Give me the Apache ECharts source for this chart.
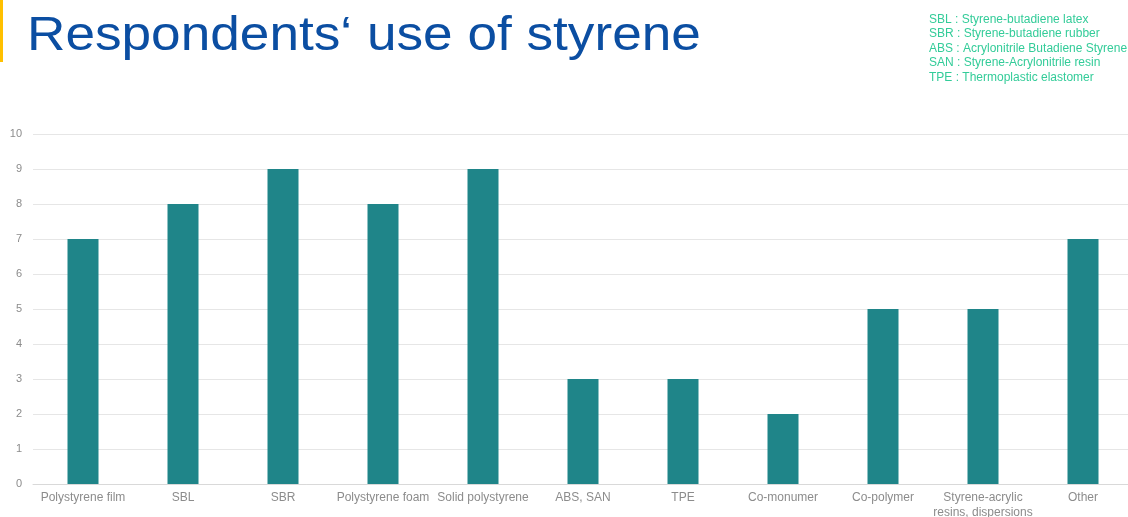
<!DOCTYPE html>
<html>
<head>
<meta charset="utf-8">
<script src="https://cdn.jsdelivr.net/npm/echarts@6/dist/echarts.min.js"></script>
<style>
  html, body { margin: 0; padding: 0; background: #fff; }
  #chart { width: 1128px; height: 517px; }
</style>
</head>
<body>
<div id="chart"></div>
<script>
// Uses of styrene reported by respondents (count per use)
const categories = [
  'Polystyrene film', 'SBL', 'SBR', 'Polystyrene foam', 'Solid polystyrene',
  'ABS, SAN', 'TPE', 'Co-monumer', 'Co-polymer',
  'Styrene-acrylic\nresins, dispersions', 'Other'
];
const respondents = [7, 8, 9, 8, 9, 3, 3, 2, 5, 5, 7];
const abbreviations = [
  'SBL : Styrene-butadiene latex',
  'SBR : Styrene-butadiene rubber',
  'ABS : Acrylonitrile Butadiene Styrene',
  'SAN : Styrene-Acrylonitrile resin',
  'TPE : Thermoplastic elastomer'
];

const chart = echarts.init(document.getElementById('chart'), null, { renderer: 'canvas' });

chart.setOption({
  animation: false,
  backgroundColor: '#ffffff',
  textStyle: { fontFamily: 'Liberation Sans, Arial, sans-serif' },
  grid: {
    left: 33, right: -5, top: 134, bottom: 33,
    containLabel: false, outerBoundsMode: 'none'
  },
  xAxis: {
    type: 'category',
    data: categories,
    axisLine: { show: true, lineStyle: { color: '#d9d9d9', width: 1 } },
    axisTick: { show: false },
    axisLabel: {
      color: '#8c8c8c', fontSize: 12, margin: 6, interval: 0, lineHeight: 15,
      hideOverlap: false,
      fontFamily: 'Liberation Sans, Arial, sans-serif'
    }
  },
  yAxis: {
    type: 'value',
    min: 0, max: 10, interval: 1,
    axisLine: { show: false },
    axisTick: { show: false },
    splitLine: { lineStyle: { color: '#e6e6e6', width: 1 } },
    axisLabel: {
      color: '#8c8c8c', fontSize: 11, margin: 11,
      fontFamily: 'Liberation Sans, Arial, sans-serif'
    }
  },
  series: [{
    type: 'bar',
    data: respondents,
    barWidth: 31,
    itemStyle: { color: '#1f8589' }
  }],
  graphic: [
    {
      type: 'rect', left: 0, top: 0,
      shape: { width: 3, height: 62 },
      style: { fill: '#ffc000' }
    },
    {
      // slightly widened heading type
      type: 'text', x: 27, y: 12, scaleX: 1.085,
      style: {
        text: 'Respondents\u2018 use of styrene',
        fill: '#0b4ea2',
        font: '49px "Liberation Sans", Arial, sans-serif'
      }
    },
    {
      type: 'text', left: 929, top: 12,
      style: {
        text: abbreviations.join('\n'),
        fill: '#33cc99',
        lineHeight: 14.6,
        font: '12px "Liberation Sans", Arial, sans-serif'
      }
    }
  ]
});
</script>
</body>
</html>
